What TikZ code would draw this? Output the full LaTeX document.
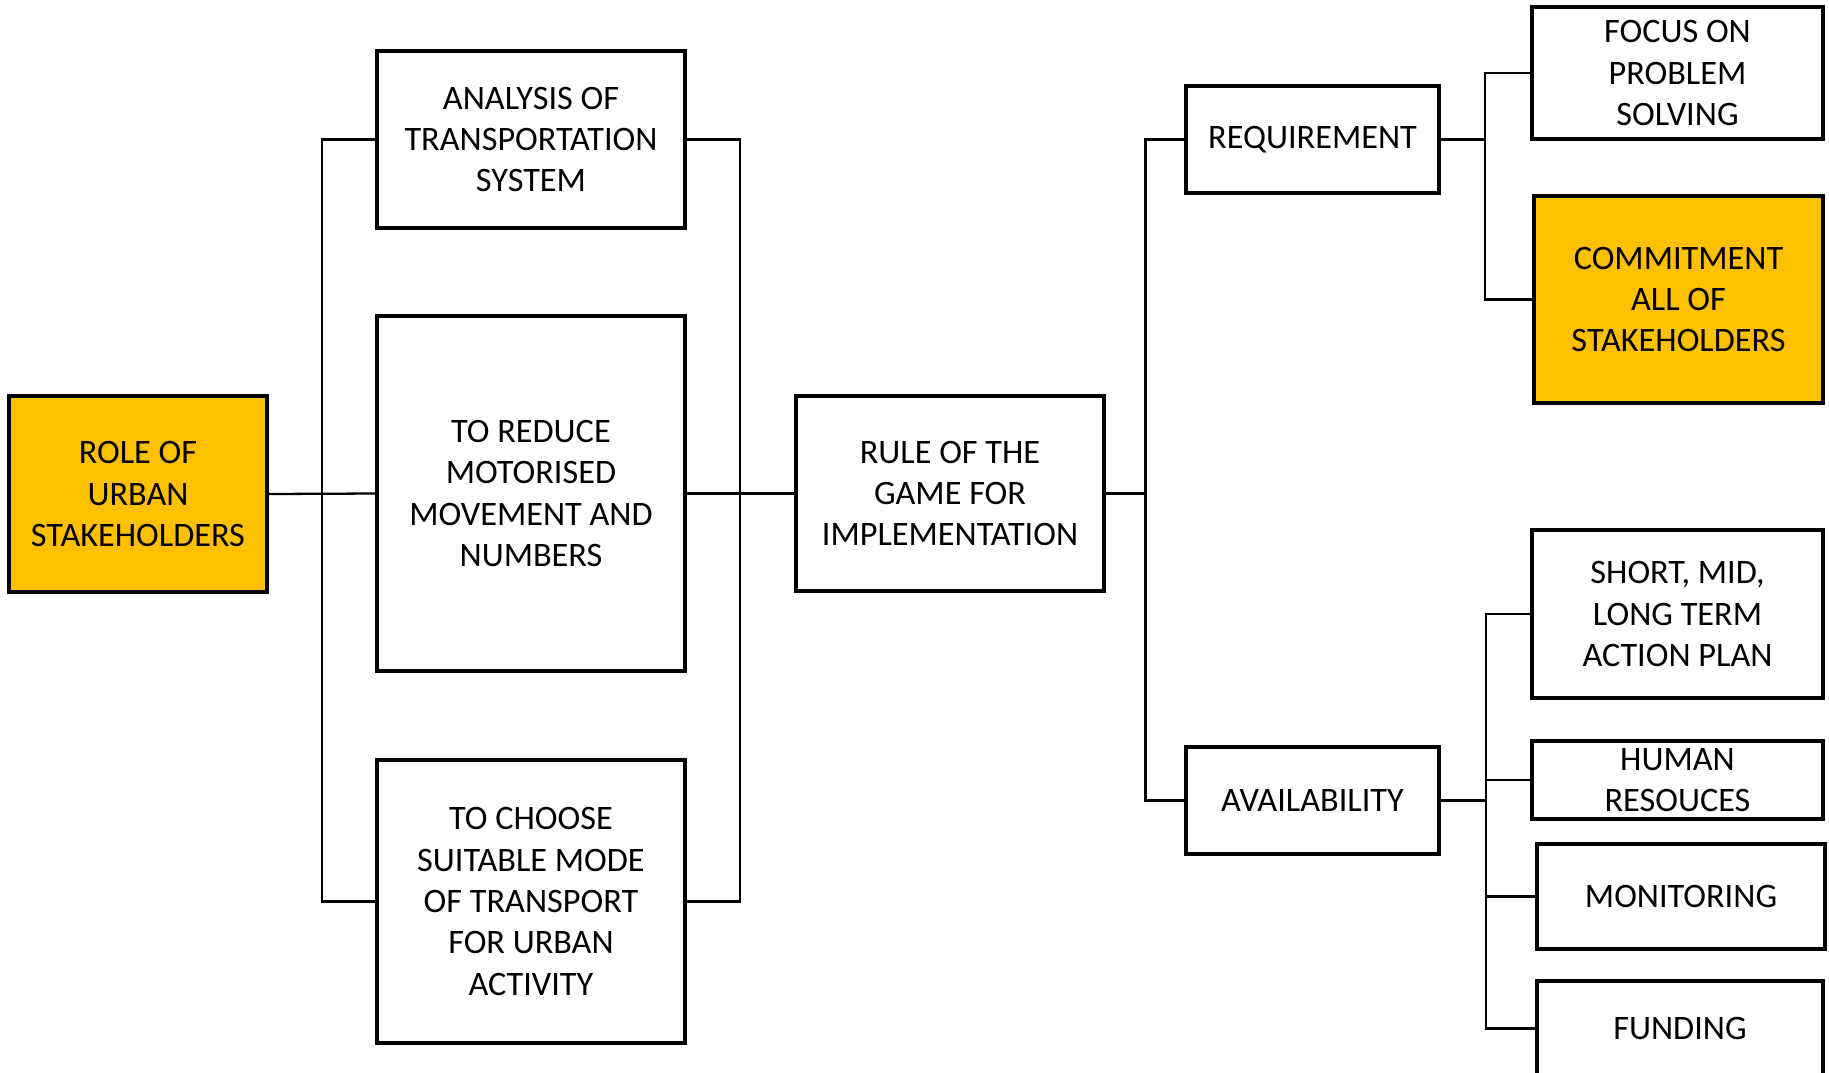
\documentclass[tikz,border=0pt]{standalone}
\usepackage{fontspec}
\setmainfont{Carlito}
\usepackage{tikz}
\usetikzlibrary{positioning,calc}
\definecolor{stakecol}{HTML}{FFC000}
\tikzset{
  box/.style={draw=black,line width=1.9pt,align=center,inner sep=0pt,font=\fontsize{19.5}{23.6}\selectfont},
  hibox/.style={box,fill=stakecol},
  link/.style={line width=1.3pt}
}

\begin{document}
\begin{tikzpicture}
  \useasboundingbox (0,0) rectangle (36.58,-21.44);
  \clip (0,0) rectangle (36.58,-21.44);
  % left part
  \node[hibox,minimum width=5.16cm,minimum height=3.92cm] (role) at (2.76,-9.88) {ROLE OF\\URBAN\\STAKEHOLDERS};
  \node[box,minimum width=6.16cm,minimum height=3.54cm] (ana) at (10.62,-2.79) {ANALYSIS OF\\TRANSPORTATION\\SYSTEM};
  \node[box,minimum width=6.16cm,minimum height=7.10cm] (red) at (10.62,-9.87) {TO REDUCE\\MOTORISED\\MOVEMENT AND\\NUMBERS};
  \node[box,minimum width=6.16cm,minimum height=5.66cm] (cho) at (10.62,-18.03) {TO CHOOSE\\SUITABLE MODE\\OF TRANSPORT\\FOR URBAN\\ACTIVITY};
  \node[box,minimum width=6.16cm,minimum height=3.90cm] (rule) at (19.00,-9.87) {RULE OF THE\\GAME FOR\\IMPLEMENTATION};
  % right part
  \node[box,minimum width=5.06cm,minimum height=2.14cm] (req) at (26.25,-2.79) {REQUIREMENT};
  \node[box,minimum width=5.06cm,minimum height=2.14cm] (ava) at (26.25,-16.01) {AVAILABILITY};
  \node[box,minimum width=5.82cm,minimum height=2.64cm] (foc) at (33.55,-1.46) {FOCUS ON\\PROBLEM\\SOLVING};
  \node[hibox,minimum width=5.78cm,minimum height=4.14cm] (com) at (33.57,-5.99) {COMMITMENT\\ALL OF\\STAKEHOLDERS};
  \node[box,minimum width=5.82cm,minimum height=3.36cm] (sho) at (33.55,-12.28) {SHORT, MID,\\LONG TERM\\ACTION PLAN};
  \node[box,minimum width=5.82cm,minimum height=1.56cm] (hum) at (33.55,-15.60) {HUMAN\\RESOUCES};
  \node[box,minimum width=5.76cm,minimum height=2.10cm] (mon) at (33.62,-17.93) {MONITORING};
  \node[box,minimum width=5.72cm,minimum height=1.90cm] (fun) at (33.60,-20.57) {FUNDING};
  % buses
  \coordinate (busL) at (6.44,-9.88);
  \coordinate (busR) at (14.80,-9.87);
  \coordinate (busM) at (22.91,-9.87);
  \coordinate (busQ) at (29.70,-2.79);
  \coordinate (busV) at (29.72,-16.01);
  % connectors
  \draw[link] (role.east) -- (red.west);
  \draw[link] (ana.west) -| (busL) |- (cho.west);
  \draw[link] (red.east) -- (rule.west);
  \draw[link] (ana.east) -| (busR) |- (cho.east);
  \draw[link] (rule.east) -- (busM);
  \draw[link] (req.west) -| (busM) |- (ava.west);
  \draw[link] (req.east) -- (busQ);
  \draw[link] (foc.west) -| (busQ) |- (com.west);
  \draw[link] (ava.east) -- (busV);
  \draw[link] (sho.west) -| (busV) |- (fun.west);
  \draw[link] (busV |- hum.west) -- (hum.west);
  \draw[link] (busV |- mon.west) -- (mon.west);
\end{tikzpicture}
\end{document}
